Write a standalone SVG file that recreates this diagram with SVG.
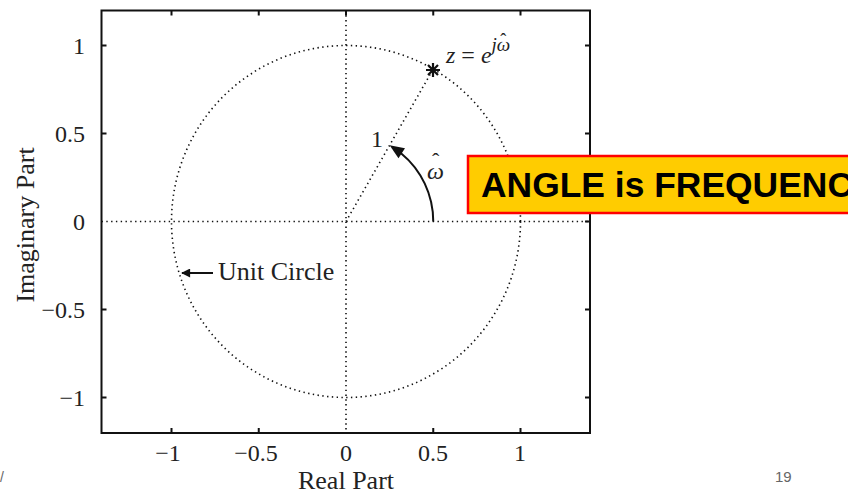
<svg xmlns="http://www.w3.org/2000/svg" width="848" height="495" viewBox="0 0 848 495">
<style>
.tl{font-family:"Liberation Serif","Times New Roman",serif;font-size:24px;fill:#222}
.lab{font-family:"Liberation Serif","Times New Roman",serif;font-size:26px;fill:#222}
.it{font-family:"Liberation Serif","Times New Roman",serif;font-style:italic;font-size:24px;fill:#222}
.dot{fill:none;stroke:#111;stroke-width:1.6;stroke-dasharray:1.4 3.4}
.tick{stroke:#111;stroke-width:2}
</style>
<defs>
<marker id="ah" viewBox="0 0 10 10" refX="9" refY="5" markerWidth="11" markerHeight="9" markerUnits="userSpaceOnUse" orient="auto">
<path d="M0,0 L10,5 L0,10 z" fill="#111"/>
</marker>
</defs>
<g id="axes">
<rect x="101.5" y="10.5" width="488.5" height="422.5" fill="#fff" stroke="#111" stroke-width="2"/>
<g class="tick">
<path d="M171.5 433v-5M258.75 433v-5M433.25 433v-5M520.5 433v-5M171.5 10.5v5M258.75 10.5v5M346 10.5v5M433.25 10.5v5M520.5 10.5v5"/>
<path d="M101.5 45.5h5M101.5 133.5h5M101.5 309.5h5M101.5 397.5h5M590 45.5h-5M590 133.5h-5M590 221.5h-5M590 309.5h-5M590 397.5h-5"/>
</g>
<g class="tl" text-anchor="middle">
<text x="168" y="461">−1</text>
<text x="256" y="461">−0.5</text>
<text x="346" y="461">0</text>
<text x="433" y="461">0.5</text>
<text x="520" y="461">1</text>
</g>
<g class="tl" text-anchor="end">
<text x="85" y="54">1</text>
<text x="85" y="142">0.5</text>
<text x="85" y="230">0</text>
<text x="85" y="318">−0.5</text>
<text x="85" y="406">−1</text>
</g>
<text class="lab" x="346" y="489" text-anchor="middle" font-size="25">Real Part</text>
<text class="lab" transform="translate(34 225) rotate(-90)" text-anchor="middle">Imaginary Part</text>
</g>
<g id="connectors">
<path class="dot" d="M101.5 221.5H590M346 10.5V433"/>
<ellipse class="dot" cx="346" cy="221.5" rx="174.5" ry="176"/>
<path class="dot" d="M346 221.5L433.25 69"/>
<path d="M433.25 221.5A87.25 88 0 0 0 401 153.2" fill="none" stroke="#111" stroke-width="2"/>
<path d="M389.6 145.3L405 148.2L398.5 158.2z" fill="#111"/>
<line x1="213" y1="273" x2="182" y2="273" stroke="#111" stroke-width="2" marker-end="url(#ah)"/>
</g>
<g id="point">
<path d="M426 70h14M433 63v14M428 65l10 10M438 65l-10 10" stroke="#111" stroke-width="2.2"/>
<text class="it" x="446" y="63" font-size="26">z <tspan font-style="normal">=</tspan> e<tspan font-size="19" dy="-12">jω</tspan><tspan font-style="normal" font-size="18" dx="-10" dy="-5">ˆ</tspan></text>
</g>
<g id="labels">
<text class="tl" x="371" y="147">1</text>
<text class="it" x="427" y="179">ω<tspan font-style="normal" font-size="22" dx="-12" dy="-11">ˆ</tspan></text>
<text class="lab" x="218" y="280" font-size="25">Unit Circle</text>
</g>
<g id="banner">
<rect x="468" y="156" width="392" height="57" fill="#FFCC00" stroke="#FF0000" stroke-width="2.5"/>
<text x="481" y="197" font-family="'Liberation Sans',Arial,sans-serif" font-weight="bold" font-size="35" textLength="372" lengthAdjust="spacingAndGlyphs" fill="#000">ANGLE is FREQUENC</text>
</g>
<g id="footer" font-family="'Liberation Sans',Arial,sans-serif" fill="#666">
<text x="775" y="482" font-size="15">19</text>
<text x="0" y="482" font-size="14">/</text>
</g>
</svg>
